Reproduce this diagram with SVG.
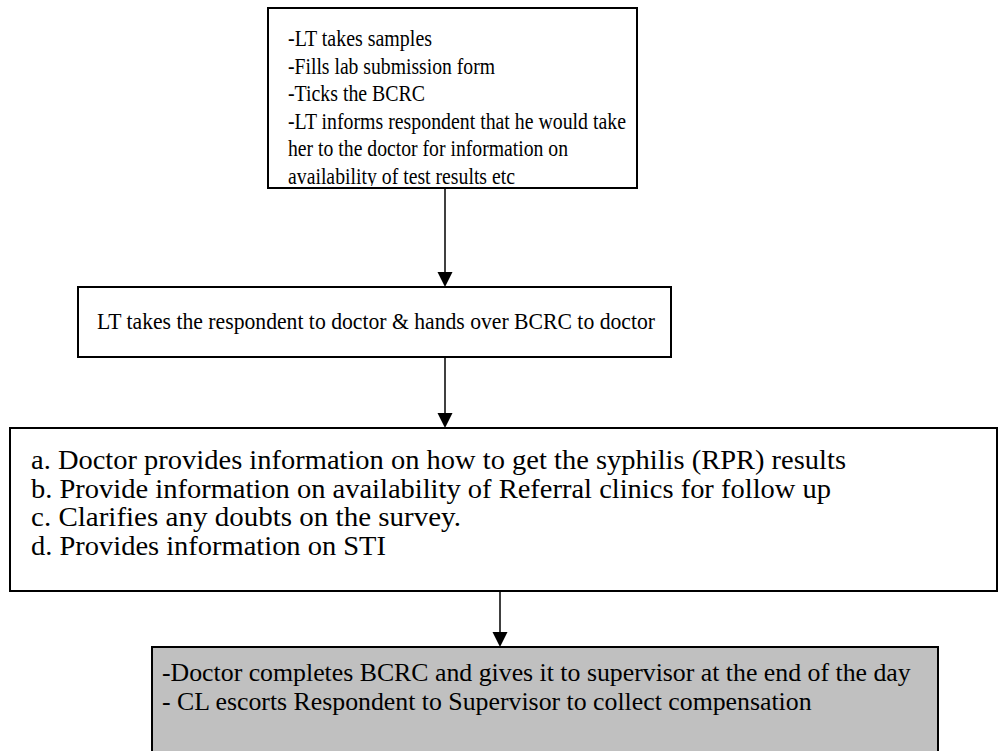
<svg xmlns="http://www.w3.org/2000/svg" width="1004" height="751" viewBox="0 0 1004 751">
  <style>
    .box { fill: #ffffff; stroke: #000000; stroke-width: 2; }
    .shaded { fill: #c0c0c0; stroke: #000000; stroke-width: 2; }
    .txt { font-family: "Liberation Serif", "Times New Roman", serif; fill: #000000; }
    .link { stroke: #000000; stroke-width: 1.5; fill: none; }
    .head { fill: #000000; }
  </style>
  <defs>
    <clipPath id="clip-samples">
      <rect x="269" y="9" width="367" height="177"/>
    </clipPath>
  </defs>
  <rect width="1004" height="751" fill="#ffffff"/>

  <g id="node-samples">
    <rect class="box" x="268" y="8" width="369" height="180"/>
    <g class="txt" font-size="23" clip-path="url(#clip-samples)">
      <text x="288" y="46" textLength="144" lengthAdjust="spacingAndGlyphs">-LT takes samples</text>
      <text x="288" y="73.5" textLength="207" lengthAdjust="spacingAndGlyphs">-Fills lab submission form</text>
      <text x="288" y="101" textLength="137" lengthAdjust="spacingAndGlyphs">-Ticks the BCRC</text>
      <text x="288" y="128.5" textLength="338" lengthAdjust="spacingAndGlyphs">-LT informs respondent that he would take</text>
      <text x="288" y="156" textLength="280" lengthAdjust="spacingAndGlyphs">her to the doctor for information on</text>
      <text x="288" y="183.5" textLength="227" lengthAdjust="spacingAndGlyphs">availability of test results etc</text>
    </g>
  </g>

  <g id="node-handover">
    <rect class="box" x="78" y="287" width="593" height="70"/>
    <text class="txt" font-size="24" x="97" y="329" textLength="558" lengthAdjust="spacingAndGlyphs">LT takes the respondent to doctor &amp; hands over BCRC to doctor</text>
  </g>

  <g id="node-doctor-info">
    <rect class="box" x="10" y="428" width="987" height="163"/>
    <g class="txt" font-size="27">
      <text x="31" y="469" textLength="815" lengthAdjust="spacingAndGlyphs">a. Doctor provides information on how to get the syphilis (RPR) results</text>
      <text x="31" y="497.5" textLength="800" lengthAdjust="spacingAndGlyphs">b. Provide information on availability of Referral clinics for follow up</text>
      <text x="31" y="526" textLength="430" lengthAdjust="spacingAndGlyphs">c. Clarifies any doubts on the survey.</text>
      <text x="31" y="554.5" textLength="355" lengthAdjust="spacingAndGlyphs">d. Provides information on STI</text>
    </g>
  </g>

  <g id="node-compensation">
    <rect class="shaded" x="152" y="647" width="786" height="120"/>
    <g class="txt" font-size="25.8">
      <text x="162" y="681">-Doctor completes BCRC and gives it to supervisor at the end of the day</text>
      <text x="162" y="710">- CL escorts Respondent to Supervisor to collect compensation</text>
    </g>
  </g>

  <g id="connectors">
    <line class="link" x1="445" y1="188" x2="445" y2="272"/>
    <path class="head" d="M437.5,272 L452.5,272 L445,287 Z"/>
    <line class="link" x1="445" y1="357" x2="445" y2="413"/>
    <path class="head" d="M437.5,413 L452.5,413 L445,428 Z"/>
    <line class="link" x1="500" y1="591" x2="500" y2="632"/>
    <path class="head" d="M492.5,632 L507.5,632 L500,647 Z"/>
  </g>
</svg>
